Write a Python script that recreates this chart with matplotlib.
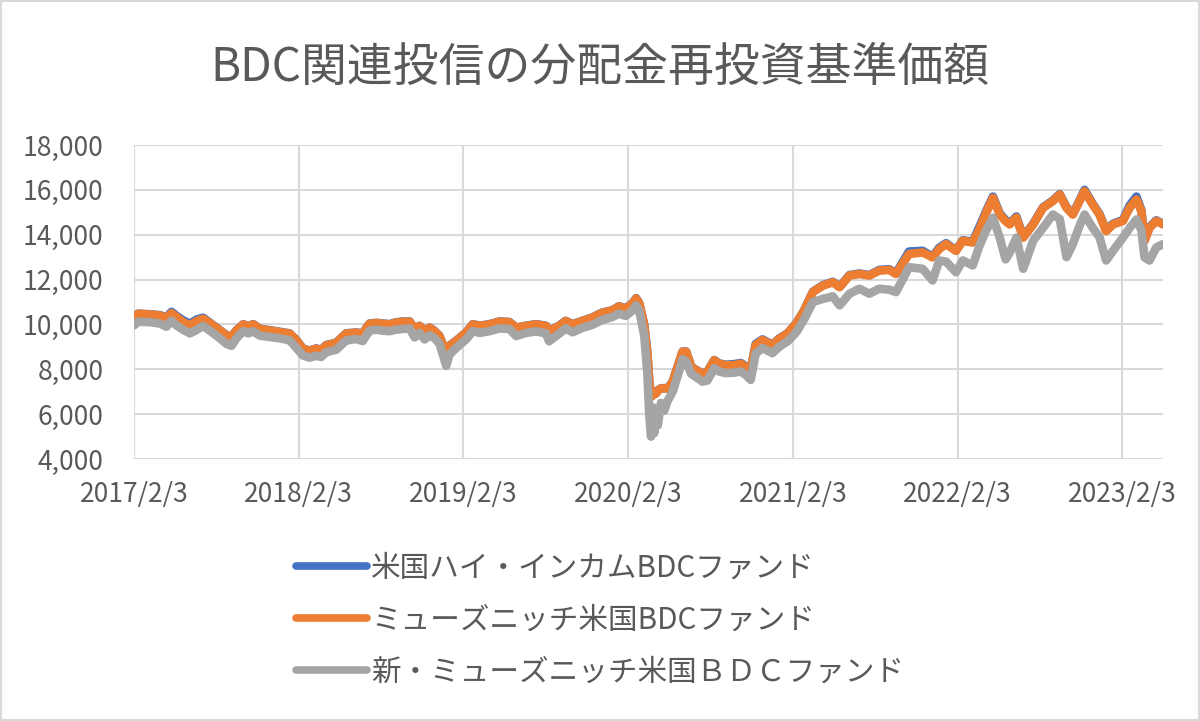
import matplotlib
matplotlib.use("Agg")
import matplotlib.pyplot as plt
from matplotlib.patches import Rectangle
import pandas as pd

plt.rcParams['font.family'] = ['Noto Sans CJK JP', 'DejaVu Sans']

title = "BDC関連投信の分配金再投資基準価額"
series_names = ["米国ハイ・インカムBDCファンド",
                "ミューズニッチ米国BDCファンド",
                "新・ミューズニッチ米国ＢＤＣファンド"]
series_colors = ["#4472C4", "#ED7D31", "#A5A5A5"]

dates = [
    "2017-02-03", "2017-02-12", "2017-03-10", "2017-04-01", "2017-04-16", "2017-04-27",
    "2017-05-08", "2017-05-23", "2017-06-07", "2017-06-22", "2017-07-06", "2017-07-21",
    "2017-08-08", "2017-08-27", "2017-09-07", "2017-09-18", "2017-10-03", "2017-10-14",
    "2017-10-25", "2017-11-09", "2017-12-01", "2017-12-23", "2018-01-14", "2018-01-29",
    "2018-02-12", "2018-02-27", "2018-03-14", "2018-03-25", "2018-04-05", "2018-04-27",
    "2018-05-19", "2018-06-10", "2018-06-25", "2018-07-10", "2018-07-25", "2018-08-09",
    "2018-08-24", "2018-09-04", "2018-09-22", "2018-10-07", "2018-10-18", "2018-10-29",
    "2018-11-09", "2018-11-20", "2018-12-01", "2018-12-12", "2018-12-19", "2018-12-27",
    "2019-01-03", "2019-01-18", "2019-02-09", "2019-02-24", "2019-03-11", "2019-04-02",
    "2019-04-24", "2019-05-16", "2019-05-31", "2019-06-22", "2019-07-14", "2019-08-05",
    "2019-08-12", "2019-09-03", "2019-09-18", "2019-10-03", "2019-10-25", "2019-11-16",
    "2019-12-08", "2019-12-30", "2020-01-14", "2020-01-29", "2020-02-13", "2020-02-21",
    "2020-02-28", "2020-03-10", "2020-03-17", "2020-03-21", "2020-03-25", "2020-03-29",
    "2020-04-01", "2020-04-05", "2020-04-09", "2020-04-16", "2020-04-23", "2020-05-01",
    "2020-05-12", "2020-05-23", "2020-06-03", "2020-06-11", "2020-06-22", "2020-07-03",
    "2020-07-17", "2020-07-28", "2020-08-12", "2020-08-23", "2020-09-07", "2020-09-25",
    "2020-10-10", "2020-10-21", "2020-11-01", "2020-11-12", "2020-11-27", "2020-12-19",
    "2021-01-03", "2021-01-22", "2021-02-10", "2021-02-28", "2021-03-19", "2021-04-10",
    "2021-05-02", "2021-05-17", "2021-06-08", "2021-06-30", "2021-07-22", "2021-08-13",
    "2021-09-04", "2021-09-19", "2021-10-18", "2021-11-17", "2021-12-09", "2021-12-24",
    "2022-01-08", "2022-01-30", "2022-02-14", "2022-03-08", "2022-03-23", "2022-04-07",
    "2022-04-22", "2022-05-07", "2022-05-20", "2022-05-29", "2022-06-13", "2022-06-28",
    "2022-07-20", "2022-08-11", "2022-09-02", "2022-09-17", "2022-10-02", "2022-10-16",
    "2022-10-31", "2022-11-11", "2022-11-29", "2022-12-14", "2022-12-29", "2023-01-13",
    "2023-02-04", "2023-02-19", "2023-03-06", "2023-03-17", "2023-03-24", "2023-04-04",
    "2023-04-19", "2023-05-04",
]

hi_income_bdc = [
    10300, 10480, 10450, 10410, 10320, 10560,
    10380, 10180, 10030, 10220, 10300, 10080,
    9810, 9520, 9450, 9740, 10010, 9920,
    10010, 9810, 9740, 9670, 9600, 9300,
    8930, 8830, 8930, 8860, 9080, 9180,
    9600, 9640, 9600, 10040, 10070, 10040,
    10010, 10080, 10130, 10130, 9790, 9940,
    9710, 9860, 9710, 9490, 9120, 8680,
    9050, 9270, 9640, 10010, 9940, 10010,
    10130, 10110, 9860, 9940, 10010, 9940,
    9710, 9940, 10160, 10010, 10160, 10310,
    10530, 10630, 10810, 10720, 10940, 11170,
    10940, 9980, 8710, 7510, 6780, 6860,
    6890, 6930, 7060, 7150, 7160, 7150,
    7450, 8120, 8790, 8790, 8120, 7970,
    7820, 7890, 8410, 8260, 8200, 8230,
    8280, 8140, 7980, 9130, 9330, 9100,
    9370, 9610, 10050, 10650, 11460, 11750,
    11900, 11680, 12200, 12270, 12200, 12430,
    12460, 12280, 13250, 13280, 13020, 13420,
    13620, 13300, 13750, 13680, 14350, 15050,
    15700, 14950, 14650, 14500, 14810, 13900,
    14480, 15220, 15530, 15810, 15230, 14920,
    15530, 16000, 15380, 14930, 14190, 14490,
    14650, 15300, 15700, 15100, 13750, 14330,
    14640, 14480,
]

muzenitch_bdc = [
    10300, 10475, 10440, 10400, 10300, 10500,
    10330, 10100, 9960, 10150, 10250, 10060,
    9800, 9510, 9440, 9730, 10000, 9910,
    10000, 9800, 9730, 9660, 9590, 9290,
    8920, 8820, 8920, 8850, 9070, 9170,
    9590, 9630, 9590, 10030, 10060, 10030,
    10000, 10070, 10120, 10120, 9780, 9930,
    9700, 9850, 9700, 9480, 9110, 8670,
    9040, 9260, 9630, 10000, 9930, 10000,
    10120, 10100, 9850, 9930, 10000, 9930,
    9700, 9930, 10150, 10000, 10150, 10300,
    10520, 10620, 10800, 10710, 10930, 11160,
    10930, 9970, 8700, 7500, 6770, 6850,
    6880, 6920, 7050, 7140, 7150, 7140,
    7440, 8110, 8780, 8780, 8110, 7960,
    7810, 7880, 8400, 8250, 8180, 8180,
    8250, 8110, 7960, 9080, 9300, 9080,
    9350, 9600, 10040, 10640, 11450, 11730,
    11880, 11660, 12180, 12250, 12180, 12400,
    12430, 12250, 13140, 13210, 12990, 13360,
    13580, 13280, 13730, 13650, 14240, 14980,
    15640, 14900, 14600, 14460, 14760, 13870,
    14460, 15200, 15500, 15790, 15200, 14900,
    15500, 15940, 15350, 14900, 14160, 14460,
    14610, 15200, 15570, 15050, 13730, 14310,
    14610, 14460,
]

new_muzenitch_bdc = [
    9960, 10120, 10100, 10040, 9900, 10170,
    9960, 9760, 9600, 9760, 9930, 9720,
    9450, 9130, 9050, 9380, 9700, 9600,
    9690, 9500, 9440, 9380, 9290, 8950,
    8620, 8520, 8600, 8550, 8760, 8870,
    9280, 9350, 9260, 9720, 9770, 9720,
    9700, 9760, 9800, 9820, 9420, 9620,
    9330, 9520, 9380, 9150, 8700, 8150,
    8650, 8950, 9330, 9700, 9620, 9700,
    9820, 9800, 9480, 9620, 9690, 9600,
    9250, 9580, 9830, 9650, 9850, 9980,
    10200, 10330, 10480, 10380, 10620, 10850,
    10600, 9500, 7800, 6000, 5000, 6300,
    5150, 6200, 5500, 6500, 6150, 6600,
    7000, 7700, 8450, 8350, 7800, 7650,
    7450, 7500, 8050, 7900, 7830, 7850,
    7900, 7750, 7530, 8700, 8950, 8720,
    9000, 9250, 9650, 10250, 11000, 11140,
    11250, 10850, 11370, 11590, 11370, 11590,
    11550, 11440, 12550, 12480, 11960, 12850,
    12800, 12330, 12850, 12630, 13500, 14200,
    14760, 13870, 12900, 13200, 13870, 12480,
    13730, 14310, 14900, 14700, 13000, 13580,
    14400, 14900, 14310, 13900, 12850, 13280,
    13870, 14300, 14680, 14200, 12990, 12850,
    13430, 13580,
]

xtick_dates = ["2017-02-03", "2018-02-03", "2019-02-03", "2020-02-03",
               "2021-02-03", "2022-02-03", "2023-02-03"]
xtick_labels = ["2017/2/3", "2018/2/3", "2019/2/3", "2020/2/3",
                "2021/2/3", "2022/2/3", "2023/2/3"]
yticks = [4000, 6000, 8000, 10000, 12000, 14000, 16000, 18000]
x_start, x_end = "2017-02-03", "2023-05-04"

text_color = "#595959"
grid_color = "#D9D9D9"

fig = plt.figure(figsize=(12, 7.21), dpi=100)
ax = fig.add_axes([0.1117, 0.3634, 0.9692 - 0.1117, 0.7989 - 0.3634])

x = pd.to_datetime(dates)
for vals, name, col in zip([hi_income_bdc, muzenitch_bdc, new_muzenitch_bdc],
                           series_names, series_colors):
    ax.plot(x, vals, color=col, lw=6.2, label=name,
            solid_capstyle='round', solid_joinstyle='round')

ax.set_xlim(pd.Timestamp(x_start), pd.Timestamp(x_end))
ax.set_ylim(yticks[0], yticks[-1])
ax.set_yticks(yticks)
ax.set_yticklabels([f"{v:,}" for v in yticks])
ax.set_xticks(pd.to_datetime(xtick_dates))
ax.set_xticklabels(xtick_labels)

for s in ax.spines.values():
    s.set_visible(False)
ax.grid(True, color=grid_color, lw=1.5)
ax.set_axisbelow(True)
ax.tick_params(axis='both', length=0, colors=text_color, labelsize=19)
ax.tick_params(axis='y', pad=22)
ax.tick_params(axis='x', pad=16)

fig.text(0.5, 1 - 68 / 721, title, ha='center', va='center',
         fontsize=33, color=text_color)

leg = fig.legend(loc='center', bbox_to_anchor=(0.5, 1 - 620 / 721),
                 frameon=False, fontsize=21.3, handlelength=2.4,
                 handletextpad=0.15, labelspacing=0.72)
for t in leg.get_texts():
    t.set_color(text_color)
for h in leg.get_lines():
    h.set_linewidth(5.5)
    h.set_solid_capstyle('round')

fig.add_artist(Rectangle((0.001, 0.001), 0.998, 0.998, transform=fig.transFigure,
                         fill=False, edgecolor=grid_color, lw=1.5))

fig.savefig("out.png", dpi=100)
